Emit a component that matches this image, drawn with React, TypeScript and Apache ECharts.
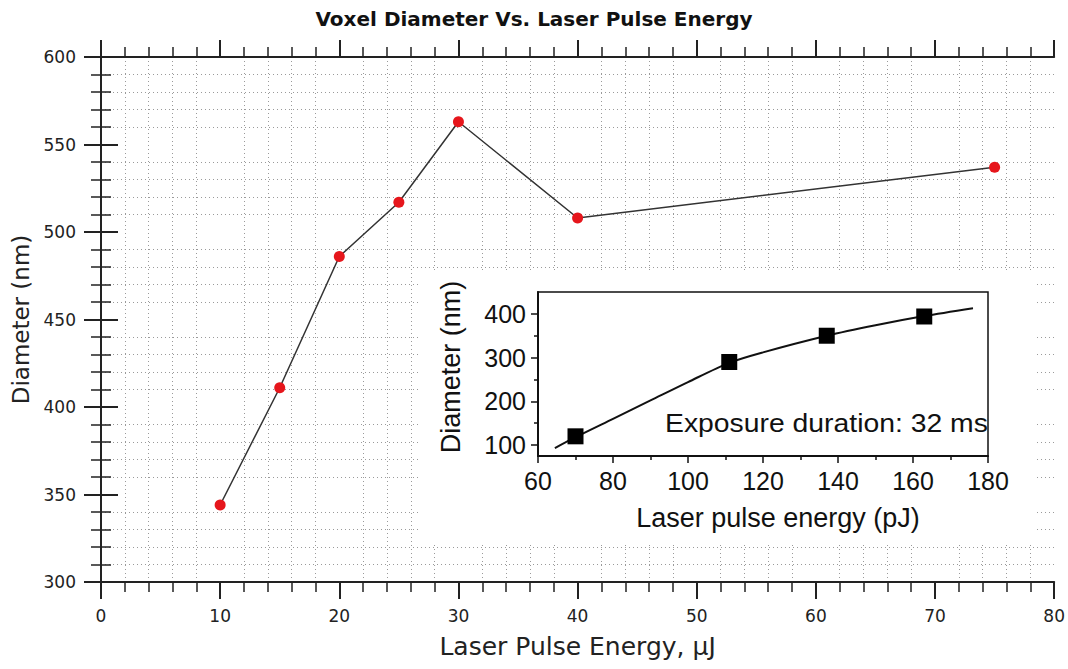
import React, { useEffect, useRef } from "react";
import * as echarts from "echarts";

const mainEnergy = [10, 15, 20, 25, 30, 40, 75];
const mainDiameter = [344, 411, 486, 517, 563, 508, 537];

const insetEnergy = [70, 111, 137, 163];
const insetDiameter = [120, 290, 350, 394];

const fitEnergy = [64.5, 70, 80, 90, 100, 111, 120, 137, 150, 163, 176];
const fitDiameter = [93, 118, 160, 202, 244, 288, 312, 350, 374, 395, 413];

const insetYLabels = [100, 200, 300, 400];
const insetYMinor = [150, 250, 350];

const TITLE = "Voxel Diameter Vs. Laser Pulse Energy";
const X_NAME = "Laser Pulse Energy, µJ";
const Y_NAME = "Diameter (nm)";
const INSET_X_NAME = "Laser pulse energy (pJ)";
const INSET_Y_NAME = "Diameter (nm)";
const INSET_NOTE = "Exposure duration: 32 ms";

const MAIN_FONT = "DejaVu Sans";
const INSET_FONT = "Liberation Sans";
const DARK = "#222";

export default function App() {
  const ref = useRef<HTMLDivElement>(null);

  useEffect(() => {
    document.body.style.margin = "0";
    if (!ref.current) return;
    const chart = echarts.init(ref.current, undefined, { renderer: "svg" });

    const mainTick = {
      show: true,
      inside: false,
      length: 17,
      lineStyle: { color: DARK, width: 2 },
    };
    const mainMinor = {
      show: true,
      splitNumber: 5,
      length: 10,
      lineStyle: { color: DARK, width: 1.5 },
    };
    const mainLine = { show: true, lineStyle: { color: DARK, width: 2 } };
    const gridDots = {
      show: true,
      lineStyle: { color: "#9a9a9a", width: 1, type: [1, 3] },
    };
    const mainLabel = {
      color: DARK,
      fontFamily: MAIN_FONT,
      fontSize: 17,
      margin: 25,
    };

    const insetLabel = {
      color: "#111",
      fontFamily: INSET_FONT,
      fontSize: 25,
    };

    const option: any = {
      animation: false,
      backgroundColor: "#fff",
      title: {
        text: TITLE,
        left: "center",
        top: 4,
        textStyle: {
          fontFamily: MAIN_FONT,
          fontWeight: "bold",
          fontSize: 20,
          color: "#111",
        },
      },
      grid: [
        { left: 101, top: 57, width: 955, height: 525, containLabel: false },
        {
          left: 538,
          top: 292,
          width: 450,
          height: 164,
          show: true,
          backgroundColor: "#fff",
          borderColor: "#111",
          borderWidth: 1.5,
          z: 2,
        },
      ],
      graphic: [
        {
          type: "rect",
          shape: { x: 418, y: 270, width: 616, height: 273 },
          style: { fill: "#fff" },
          z: 1,
        },
        {
          type: "text",
          x: 665,
          y: 423,
          scaleX: 1.09,
          z: 10,
          style: {
            text: INSET_NOTE,
            fill: "#111",
            font: `26px "${INSET_FONT}"`,
            verticalAlign: "middle",
          },
        },
      ],
      xAxis: [
        {
          gridIndex: 0,
          type: "value",
          position: "bottom",
          min: 0,
          max: 80,
          interval: 10,
          axisLine: mainLine,
          axisTick: mainTick,
          minorTick: mainMinor,
          splitLine: { show: false },
          minorSplitLine: gridDots,
          axisLabel: mainLabel,
          name: X_NAME,
          nameLocation: "middle",
          nameGap: 52,
          nameTextStyle: { fontFamily: MAIN_FONT, fontSize: 25, color: DARK },
        },
        {
          gridIndex: 0,
          type: "value",
          position: "top",
          min: 0,
          max: 80,
          interval: 10,
          axisLine: mainLine,
          axisTick: mainTick,
          minorTick: mainMinor,
          splitLine: { show: false },
          axisLabel: { show: false },
        },
        {
          gridIndex: 1,
          type: "value",
          position: "bottom",
          min: 60,
          max: 180,
          interval: 20,
          z: 3,
          axisLine: { show: true, lineStyle: { color: "#111", width: 2 } },
          axisTick: { show: true, length: 7, lineStyle: { color: "#111", width: 1.5 } },
          minorTick: { show: true, splitNumber: 2, length: 4, lineStyle: { color: "#111", width: 1.5 } },
          splitLine: { show: false },
          axisLabel: { ...insetLabel, margin: 12 },
          name: INSET_X_NAME,
          nameLocation: "middle",
          nameGap: 48,
          nameTextStyle: {
            fontFamily: INSET_FONT,
            fontSize: 27,
            color: "#111",
            padding: [0, 0, 0, 30],
          },
        },
      ],
      yAxis: [
        {
          gridIndex: 0,
          type: "value",
          position: "left",
          min: 300,
          max: 600,
          interval: 50,
          axisLine: mainLine,
          axisTick: mainTick,
          minorTick: mainMinor,
          splitLine: { show: false },
          minorSplitLine: gridDots,
          axisLabel: mainLabel,
          name: Y_NAME,
          nameLocation: "middle",
          nameGap: 66,
          nameTextStyle: { fontFamily: MAIN_FONT, fontSize: 23, color: DARK },
        },
        {
          gridIndex: 0,
          type: "value",
          position: "right",
          min: 300,
          max: 600,
          interval: 50,
          axisLine: mainLine,
          axisTick: mainTick,
          minorTick: mainMinor,
          splitLine: { show: false },
          axisLabel: { show: false },
        },
        {
          gridIndex: 1,
          type: "value",
          position: "left",
          min: 75,
          max: 450,
          z: 3,
          axisLine: { show: true, lineStyle: { color: "#111", width: 2 } },
          axisTick: {
            show: true,
            length: 7,
            customValues: insetYLabels,
            lineStyle: { color: "#111", width: 1.5 },
          },
          splitLine: { show: false },
          axisLabel: { ...insetLabel, margin: 12, customValues: insetYLabels },
          name: INSET_Y_NAME,
          nameLocation: "middle",
          nameGap: 74,
          nameTextStyle: {
            fontFamily: INSET_FONT,
            fontSize: 27,
            color: "#111",
            padding: [0, 0, 0, 14],
          },
        },
        {
          gridIndex: 1,
          type: "value",
          position: "left",
          min: 75,
          max: 450,
          z: 3,
          axisLine: { show: false },
          axisTick: {
            show: true,
            length: 4,
            customValues: insetYMinor,
            lineStyle: { color: "#111", width: 1.5 },
          },
          splitLine: { show: false },
          axisLabel: { show: false },
        },
      ],
      series: [
        {
          type: "line",
          xAxisIndex: 0,
          yAxisIndex: 0,
          data: mainEnergy.map((x, i) => [x, mainDiameter[i]]),
          symbol: "circle",
          symbolSize: 11,
          itemStyle: { color: "#e6161c" },
          lineStyle: { color: "#333", width: 1.5 },
          z: 2,
        },
        {
          type: "line",
          xAxisIndex: 2,
          yAxisIndex: 2,
          data: fitEnergy.map((x, i) => [x, fitDiameter[i]]),
          smooth: 0.3,
          showSymbol: false,
          symbol: "none",
          lineStyle: { color: "#111", width: 2 },
          z: 4,
        },
        {
          type: "scatter",
          xAxisIndex: 2,
          yAxisIndex: 2,
          data: insetEnergy.map((x, i) => [x, insetDiameter[i]]),
          symbol: "rect",
          symbolSize: 16,
          itemStyle: { color: "#000", opacity: 1 },
          z: 5,
        },
      ],
    };

    chart.setOption(option);
    return () => chart.dispose();
  }, []);

  return <div ref={ref} style={{ width: 1068, height: 669 }} />;
}
